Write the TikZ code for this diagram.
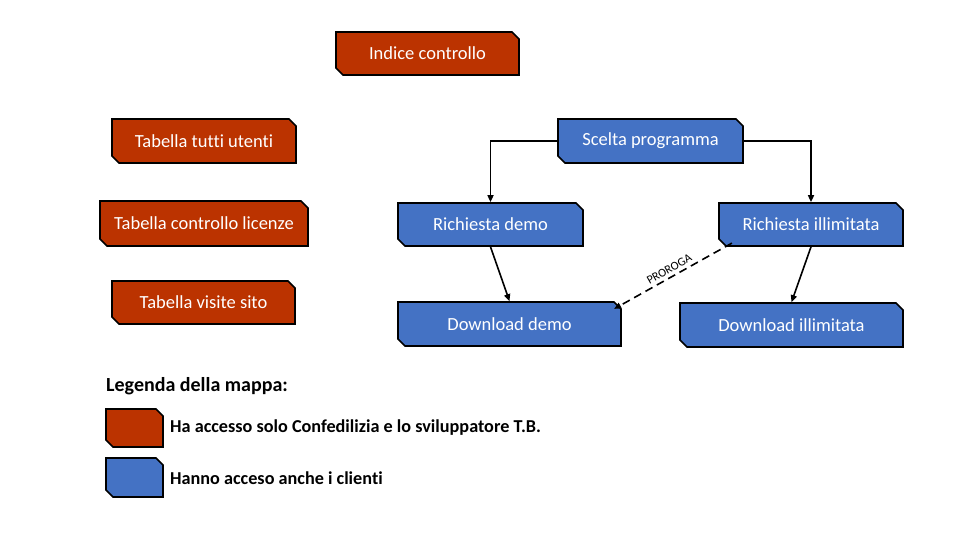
\documentclass[tikz,border=0pt]{standalone}
\usepackage{fontspec}
\setmainfont{Carlito}[Ligatures=NoCommon]
\usetikzlibrary{shapes.misc,arrows.meta,calc}
\definecolor{redbox}{RGB}{187,51,0}
\definecolor{bluebox}{RGB}{68,114,196}
\begin{document}
\begin{tikzpicture}[x=1pt,y=-1pt,
  snip/.style={chamfered rectangle,chamfered rectangle corners={north east,south west},
    chamfered rectangle xsep=3.5pt,chamfered rectangle ysep=3.5pt,
    draw=black,line width=1.7pt,text=white,font=\fontsize{18.5}{21}\selectfont,inner sep=0pt},
  rbox/.style={snip,fill=redbox},
  bbox/.style={snip,fill=bluebox},
  conn/.style={line width=1.6pt,-{Triangle[length=7pt,width=6pt]}},
  legtext/.style={anchor=west,font=\bfseries\fontsize{18.2}{21}\selectfont,inner sep=0pt}]
\useasboundingbox (0,0) rectangle (980,551);
% red boxes
\node[rbox,minimum width=183pt,minimum height=43pt] (indice) at (427.5,53.5) {Indice controllo};
\node[rbox,minimum width=184pt,minimum height=44pt] (tutti) at (204,141) {Tabella tutti utenti};
\node[rbox,minimum width=208pt,minimum height=45pt] (licenze) at (204,223.5) {Tabella controllo licenze};
\node[rbox,minimum width=183pt,minimum height=43pt] (visite) at (203.5,302.5) {Tabella visite sito};
% blue boxes
\node[bbox,minimum width=185pt,minimum height=44pt] (scelta) at (650.5,141) {Scelta programma};
\node[bbox,minimum width=185pt,minimum height=43pt] (rdemo) at (490.5,224.5) {Richiesta demo};
\node[bbox,minimum width=184pt,minimum height=43pt] (rill) at (811,224.5) {Richiesta illimitata};
\node[bbox,minimum width=223pt,minimum height=44pt] (ddemo) at (509.5,324) {Download demo};
\node[bbox,minimum width=223pt,minimum height=44pt] (dill) at (791.5,325) {Download illimitata};
% connectors
\draw[conn] (scelta.west) -| (rdemo.north);
\draw[conn] (scelta.east) -| (rill.north);
\draw[conn] (rdemo.south) -- (ddemo.north);
\draw[conn] (rill.south) -- (dill.north);
\coordinate (pstart) at ([xshift=10pt]rill.south west);
\coordinate (pend) at ([xshift=-4pt,yshift=-4pt]ddemo.north east);
\draw[conn,dashed,dash pattern=on 8pt off 5pt] (pstart) -- node[sloped,above=2pt,font=\fontsize{12}{14}\selectfont,inner sep=1pt] (proroga) {PROROGA} (pend);
% legend
\node[anchor=west,font=\bfseries\fontsize{20}{24}\selectfont,inner sep=0pt] (legtitle) at (106,386) {Legenda della mappa:};
\node[rbox,minimum width=57pt,minimum height=38pt] (legred) at (134.5,428) {\phantom{MM}};
\node[bbox,minimum width=57pt,minimum height=39pt] (legblue) at (134.5,477.5) {\phantom{MM}};
\node[legtext] (legredt) at (170,428) {Ha accesso solo Confedilizia e lo sviluppatore T.B.};
\node[legtext] (legbluet) at (170,478) {Hanno acceso anche i clienti};
\end{tikzpicture}
\end{document}
